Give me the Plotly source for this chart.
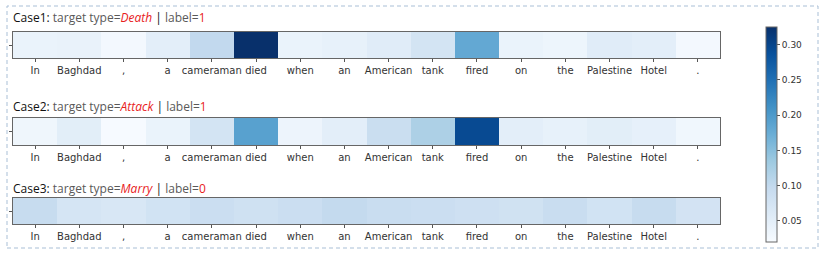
import plotly.graph_objects as go

tokens = ["In", "Baghdad", ",", "a", "cameraman", "died", "when", "an", "American",
          "tank", "fired", "on", "the", "Palestine", "Hotel", "."]

case1_values = [0.040, 0.042, 0.026, 0.050, 0.100, 0.325, 0.040, 0.045, 0.055,
                0.075, 0.180, 0.040, 0.035, 0.055, 0.050, 0.026]
case2_values = [0.032, 0.052, 0.022, 0.040, 0.075, 0.190, 0.036, 0.050, 0.090,
                0.120, 0.295, 0.050, 0.045, 0.052, 0.046, 0.030]
case3_values = [0.095, 0.072, 0.068, 0.078, 0.088, 0.082, 0.088, 0.098, 0.092,
                0.088, 0.084, 0.080, 0.092, 0.078, 0.095, 0.076]

case_names = ["Case1", "Case2", "Case3"]
target_types = ["Death", "Attack", "Marry"]
labels = ["1", "1", "0"]
all_values = [case1_values, case2_values, case3_values]

cbar_ticks = [0.05, 0.10, 0.15, 0.20, 0.25, 0.30]

blues = [[0.0, "rgb(247,251,255)"], [0.125, "rgb(222,235,247)"], [0.25, "rgb(198,219,239)"],
         [0.375, "rgb(158,202,225)"], [0.5, "rgb(107,174,214)"], [0.625, "rgb(66,146,198)"],
         [0.75, "rgb(33,113,181)"], [0.875, "rgb(8,81,156)"], [1.0, "rgb(8,48,107)"]]

W, H = 827, 254
x0, x1 = 13, 720
rows_px = [(32, 58), (118, 145), (198, 224)]
title_y_px = [18, 107, 188]

fig = go.Figure()
layout = dict(
    width=W, height=H,
    margin=dict(l=0, r=0, t=0, b=0),
    paper_bgcolor="white", plot_bgcolor="white",
    showlegend=False,
    coloraxis=dict(
        colorscale=blues, cmin=0.02, cmax=0.325,
        colorbar=dict(
            x=766 / W, xanchor="left", y=1 - 242 / H, yanchor="bottom",
            len=(242 - 27) / H, lenmode="fraction",
            thickness=11, thicknessmode="pixels",
            outlinewidth=1, outlinecolor="#666666",
            tickvals=cbar_ticks, ticktext=[f"{v:.2f}" for v in cbar_ticks],
            ticks="outside", ticklen=3, tickcolor="#555555",
            tickfont=dict(family="DejaVu Sans", size=9, color="#333333"),
            xpad=0, ypad=0,
        ),
    ),
)

annotations = []
for i, vals in enumerate(all_values):
    n = i + 1
    xa = "x" if n == 1 else f"x{n}"
    ya = "y" if n == 1 else f"y{n}"
    fig.add_trace(go.Heatmap(z=[vals], x=tokens, y=[0], coloraxis="coloraxis",
                             xaxis=xa, yaxis=ya, hoverongaps=False))
    top, bot = rows_px[i]
    layout[f"xaxis{'' if n == 1 else n}"] = dict(
        domain=[x0 / W, x1 / W], anchor=ya, type="category",
        showline=True, linecolor="#666666", linewidth=1, mirror=True,
        ticks="outside", ticklen=3, tickcolor="#555555",
        tickfont=dict(family="DejaVu Sans", size=10, color="#333333"),
        showgrid=False, zeroline=False, fixedrange=True,
    )
    layout[f"yaxis{'' if n == 1 else n}"] = dict(
        domain=[1 - bot / H, 1 - top / H], anchor=xa,
        showline=True, linecolor="#666666", linewidth=1, mirror=True,
        tickvals=[0], ticktext=[""], ticks="outside", ticklen=3, tickcolor="#555555",
        showgrid=False, zeroline=False, fixedrange=True,
    )
    title = (f"<span style='color:#111111'>{case_names[i]}:</span> "
             f"<span style='color:#595959'>target type=</span>"
             f"<span style='color:#e8211c'><i>{target_types[i]}</i></span>"
             f"<span style='color:#111111'> | </span>"
             f"<span style='color:#595959'>label=</span>"
             f"<span style='color:#e8211c'>{labels[i]}</span>")
    annotations.append(dict(
        text=title, xref="paper", yref="paper", x=13 / W, y=1 - title_y_px[i] / H,
        xanchor="left", yanchor="middle", showarrow=False,
        font=dict(family="Open Sans", size=12), xshift=-2,
    ))

layout["annotations"] = annotations
layout["shapes"] = [dict(
    type="rect", xref="paper", yref="paper",
    x0=7 / W, x1=818 / W, y0=1 - 248 / H, y1=1 - 6 / H,
    line=dict(color="#a9bfd6", width=1, dash="4px,3px"),
)]
fig.update_layout(**layout)
fig.write_html("out.html")
